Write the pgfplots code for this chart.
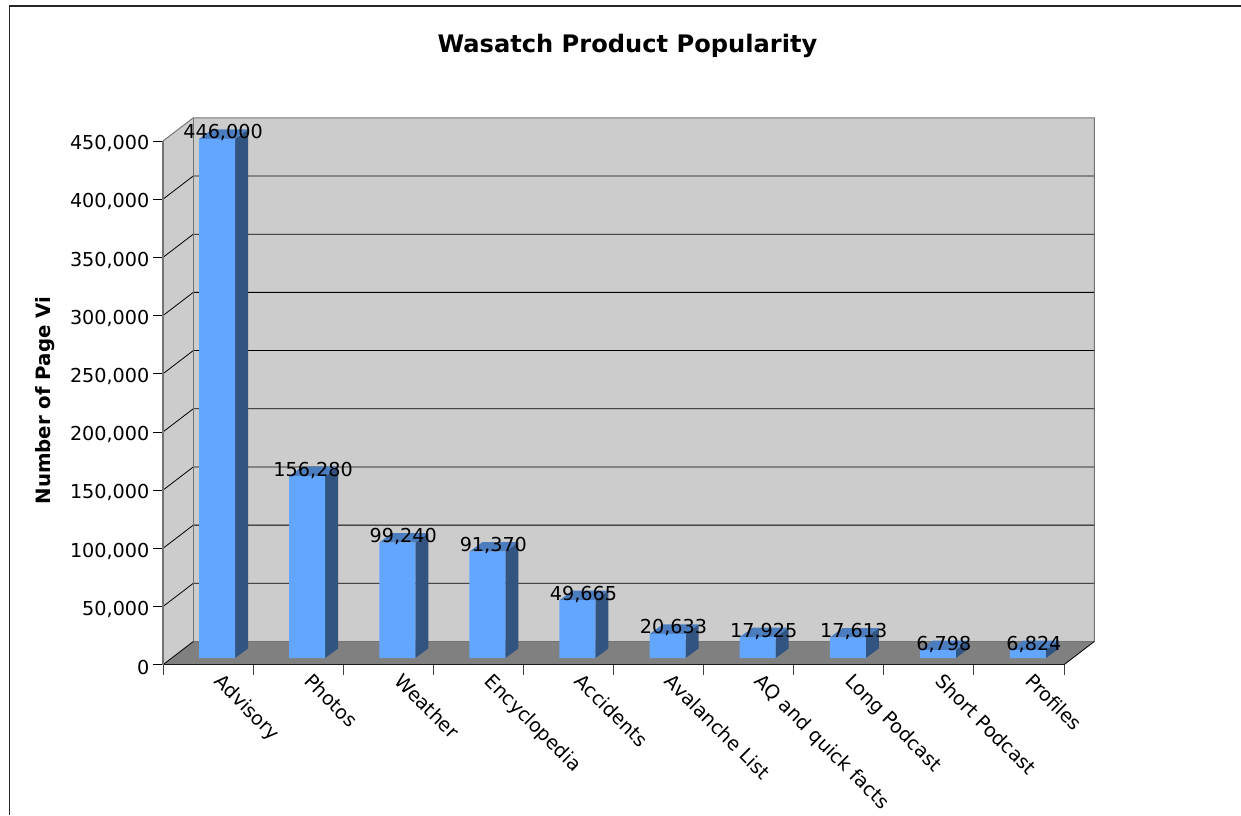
\documentclass[border=0pt]{standalone}
\usepackage{fontspec}
\setmainfont{DejaVu Sans}
\usepackage{pgfplots}
\usepackage{pgfplotstable}
\pgfplotsset{compat=1.18}
\definecolor{wall}{HTML}{CCCCCC}
\definecolor{floorc}{HTML}{808080}
\definecolor{front}{HTML}{62A6FF}
\definecolor{sidec}{HTML}{315480}
\definecolor{topc}{HTML}{4C7EBF}
\pgfplotstableread{
x v
0.5 446000
1.5 156280
2.5 99240
3.5 91370
4.5 49665
5.5 20633
6.5 17925
7.5 17613
8.5 6798
9.5 6824
}\products
\newcommand{\lab}{\fontsize{14.4}{17}\selectfont}
% one 3-D bar: centre x, value, value raised by the depth of the bar
\newcommand{\barthree}[3]{%
  \pgfmathsetmacro{\xl}{#1-0.19978}%
  \pgfmathsetmacro{\xr}{#1+0.19978}%
  \pgfmathsetmacro{\xd}{#1+0.19978+0.1443}%
  \pgfmathsetmacro{\xe}{#1-0.19978+0.1443}%
  \addplot[fill=sidec,draw=none,xshift=6.75pt,yshift=5.025pt] coordinates {(\xr,0)(\xr,#2)(\xd,#3)(\xd,8163)} --cycle;
  \addplot[fill=topc,draw=none,xshift=6.75pt,yshift=5.025pt] coordinates {(\xl,#2)(\xr,#2)(\xd,#3)(\xe,#3)} --cycle;
}
\begin{document}
\begin{tikzpicture}
\useasboundingbox (0,0) rectangle (930.75pt,611.25pt);
\clip (0,0) rectangle (930.75pt,611.25pt);
\draw[line width=0.9pt,color=black!85] (930.75pt,606.75pt) -- (7pt,606.75pt) -- (7pt,0);
\begin{axis}[
  /pgf/number format/assume math mode=true,
  /pgf/number format/fixed,
  /pgf/number format/precision=0,
  /pgf/number format/1000 sep={,},
  at={(122.25pt,112.725pt)},anchor=south west,
  scale only axis,width=675.75pt,height=392.775pt,
  xmin=0,xmax=10,ymin=0,ymax=450000,
  clip=false,axis on top,
  axis x line*=bottom,axis y line*=left,
  x axis line style={-,black!90,line width=0.8pt},
  y axis line style={-,black!55,line width=0.8pt},
  tick align=outside,
  major tick length=7.5pt,
  xtick={0,1,...,10},xticklabels={},
  ytick={0,50000,...,450000},
  x tick style={black!75,line width=0.7pt},
  y tick style={black,line width=0.6pt},
  extra x ticks={0.5,1.5,2.5,3.5,4.5,5.5,6.5,7.5,8.5,9.5},
  extra x tick labels={Advisory,Photos,Weather,Encyclopedia,Accidents,Avalanche List,AQ and quick facts,Long Podcast,Short Podcast,Profiles},
  extra x tick style={tick style={draw=none},
    xticklabel style={xshift=11.7pt,yshift=2.1pt,rotate=-45,anchor=north west,font=\lab,inner sep=0pt}},
  scaled y ticks=false,
  y tick label style={font=\lab,inner sep=0pt,xshift=-2.5pt,yshift=-2pt},
  ylabel={\bfseries Number of Page Vi},
  ylabel style={at={(axis description cs:-0.131,0.5045)},anchor=center,font=\fontsize{14.8}{17}\selectfont,inner sep=0pt},
  title={\bfseries Wasatch Product Popularity},
  title style={at={(axis description cs:0.5155,1.166)},anchor=center,yshift=0pt,font=\fontsize{18.1}{22}\selectfont,inner sep=0pt},
]
% floor and walls
\fill[floorc] (axis cs:0,0) -- ++(22.725pt,17.4pt) -- ++(675.75pt,0) -- (axis cs:10,0) -- cycle;
\fill[wall] (axis cs:0,0) -- ++(22.725pt,17.4pt) -- ++(675.75pt,0) -- ++(0,392.775pt) -- ++(-675.75pt,0) -- ++(-22.725pt,-17.4pt) -- cycle;
\pgfplotsinvokeforeach{50000,100000,150000,200000,250000,300000,350000,400000}{
  \draw[black,line width=0.6pt] (axis cs:0,#1) -- ++(22.725pt,17.4pt) -- ++(675.75pt,0);
}
\draw[black!55,line width=0.7pt] (axis cs:0,450000) -- ++(22.725pt,17.4pt) -- ++(675.75pt,0) -- ++(0,-392.775pt);
\draw[black!55,line width=0.7pt] (axis cs:0,450000) ++(22.725pt,17.4pt) -- ++(0,-392.775pt) -- ++(675.75pt,0);
\draw[black,line width=0.6pt] (axis cs:0,0) -- ++(22.725pt,17.4pt);
\draw[black,line width=0.6pt] (axis cs:10,0) -- ++(22.725pt,17.4pt);
% bars
\barthree{0.5}{446000}{454163}
\barthree{1.5}{156280}{164443}
\barthree{2.5}{99240}{107403}
\barthree{3.5}{91370}{99533}
\barthree{4.5}{49665}{57828}
\barthree{5.5}{20633}{28796}
\barthree{6.5}{17925}{26088}
\barthree{7.5}{17613}{25776}
\barthree{8.5}{6798}{14961}
\barthree{9.5}{6824}{14987}
\addplot[ybar,bar width=27pt,fill=front,draw=none,xshift=6.75pt,yshift=5.025pt,
  nodes near coords,
  every node near coord/.append style={anchor=base,font=\lab,text=black,inner sep=0pt,xshift=4.5pt,yshift=0pt}]
  table[x=x,y=v] {\products};
\end{axis}
\end{tikzpicture}
\end{document}
